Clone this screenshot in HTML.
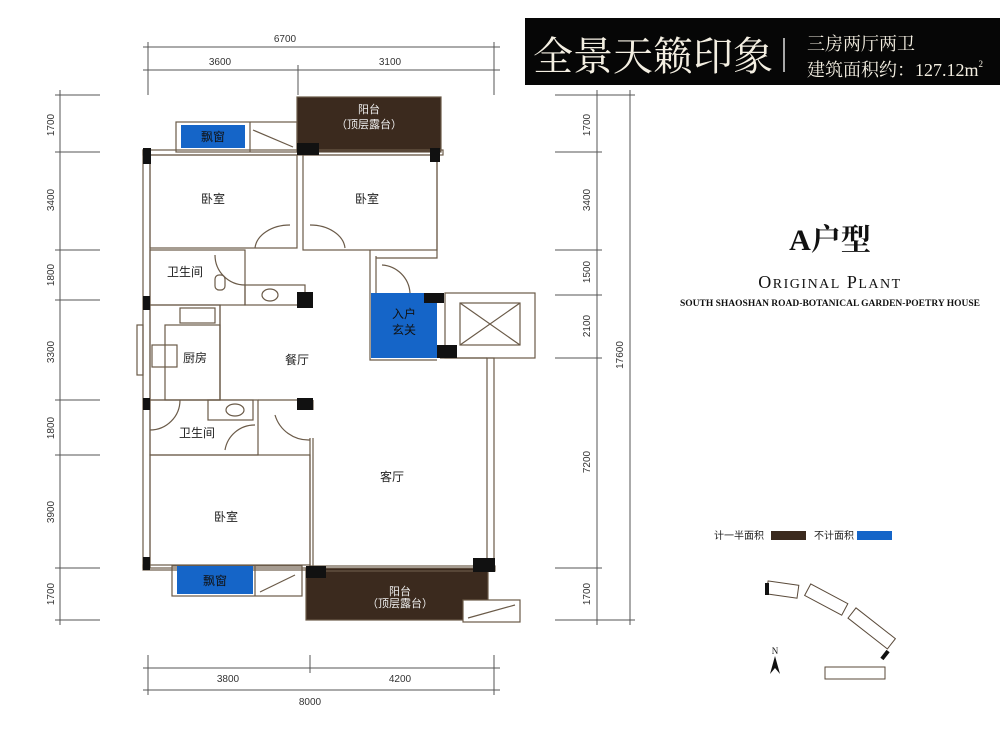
<!DOCTYPE html>
<html><head><meta charset="utf-8"><style>
html,body{margin:0;padding:0;background:#fff;}
svg{display:block;}
.d{font-family:"Liberation Sans Narrow","Liberation Sans",sans-serif;font-size:10px;fill:#333;}
.c{font-family:"Liberation Sans","Noto Sans CJK SC",sans-serif;font-size:12px;fill:#222;}
</style></head><body>
<svg width="1000" height="730" viewBox="0 0 1000 730" xmlns="http://www.w3.org/2000/svg">
<rect width="1000" height="730" fill="#fff"/>
<!-- header -->
<rect x="525" y="18" width="475" height="67" fill="#060606"/>
<text x="533" y="70" font-family="'Noto Serif CJK SC',serif" font-size="40" fill="#f4efe2">全景天籁印象</text>
<line x1="784" y1="38" x2="784" y2="72" stroke="#ddd" stroke-width="1.5"/>
<text x="807" y="50" font-family="'Noto Serif CJK SC',serif" font-size="18" fill="#f4efe2">三房两厅两卫</text>
<text x="807" y="76" font-family="'Liberation Serif','Noto Serif CJK SC',serif" font-size="18" fill="#f4efe2">建筑面积约：127.12m<tspan font-size="9" dy="-9">2</tspan></text>

<g stroke="#555" stroke-width="1" fill="none">
<!-- top dims -->
<line x1="143" y1="47" x2="500" y2="47"/><line x1="143" y1="70" x2="500" y2="70"/>
<line x1="148" y1="42" x2="148" y2="95"/><line x1="494" y1="42" x2="494" y2="95"/><line x1="298" y1="65" x2="298" y2="95"/>
<!-- bottom dims -->
<line x1="143" y1="668" x2="500" y2="668"/><line x1="143" y1="690" x2="500" y2="690"/>
<line x1="148" y1="655" x2="148" y2="695"/><line x1="494" y1="655" x2="494" y2="695"/><line x1="310" y1="655" x2="310" y2="673"/>
<!-- left dims -->
<line x1="60" y1="90" x2="60" y2="625"/>
<g><line x1="55" y1="95" x2="100" y2="95"/><line x1="55" y1="152" x2="100" y2="152"/><line x1="55" y1="250" x2="100" y2="250"/><line x1="55" y1="300" x2="100" y2="300"/><line x1="55" y1="400" x2="100" y2="400"/><line x1="55" y1="455" x2="100" y2="455"/><line x1="55" y1="568" x2="100" y2="568"/><line x1="55" y1="620" x2="100" y2="620"/></g>
<!-- right dims -->
<line x1="597" y1="90" x2="597" y2="625"/><line x1="630" y1="90" x2="630" y2="625"/>
<g><line x1="555" y1="95" x2="635" y2="95"/><line x1="555" y1="152" x2="602" y2="152"/><line x1="555" y1="250" x2="602" y2="250"/><line x1="555" y1="295" x2="602" y2="295"/><line x1="555" y1="358" x2="602" y2="358"/><line x1="555" y1="568" x2="602" y2="568"/><line x1="555" y1="620" x2="635" y2="620"/></g>
</g>
<g class="d" text-anchor="middle">
<text x="285" y="42">6700</text><text x="220" y="65">3600</text><text x="390" y="65">3100</text>
<text x="228" y="682">3800</text><text x="400" y="682">4200</text><text x="310" y="705">8000</text>
<text transform="translate(54,125) rotate(-90)">1700</text>
<text transform="translate(54,200) rotate(-90)">3400</text>
<text transform="translate(54,275) rotate(-90)">1800</text>
<text transform="translate(54,352) rotate(-90)">3300</text>
<text transform="translate(54,428) rotate(-90)">1800</text>
<text transform="translate(54,512) rotate(-90)">3900</text>
<text transform="translate(54,594) rotate(-90)">1700</text>
<text transform="translate(590,125) rotate(-90)">1700</text>
<text transform="translate(590,200) rotate(-90)">3400</text>
<text transform="translate(590,272) rotate(-90)">1500</text>
<text transform="translate(590,326) rotate(-90)">2100</text>
<text transform="translate(590,462) rotate(-90)">7200</text>
<text transform="translate(590,594) rotate(-90)">1700</text>
<text transform="translate(623,355) rotate(-90)">17600</text>
</g>

<!-- plan -->
<g stroke="#6a5a48" stroke-width="1.2" fill="none">
<rect x="297" y="97" width="144" height="55" fill="#3b2a1e"/>
<rect x="176" y="122" width="121" height="30"/>
<line x1="250" y1="122" x2="250" y2="152"/>
<line x1="253" y1="130" x2="293" y2="147"/>
<rect x="143" y="150" width="300" height="5"/>
<rect x="143" y="150" width="7" height="418"/>
<rect x="150" y="155" width="147" height="93"/>
<rect x="303" y="155" width="134" height="95"/>
<line x1="437" y1="152" x2="437" y2="250"/>
<path d="M255 248 A35 25 0 0 1 290 225"/><path d="M310 225 A35 25 0 0 1 345 248"/>
<rect x="150" y="250" width="95" height="55"/>
<path d="M215 255 A30 30 0 0 0 245 285"/>
<rect x="215" y="275" width="10" height="15" rx="4"/>
<rect x="245" y="285" width="60" height="20"/>
<ellipse cx="270" cy="295" rx="8" ry="6"/>
<polyline points="370,250 370,360 437,360"/>
<line x1="376" y1="256" x2="376" y2="293"/>
<polyline points="437,250 437,258 376,258"/>
<path d="M382 265 A30 30 0 0 1 410 293"/>
<rect x="445" y="293" width="90" height="65"/>
<rect x="460" y="303" width="60" height="42"/>
<line x1="460" y1="303" x2="520" y2="345"/><line x1="520" y1="303" x2="460" y2="345"/>
<rect x="150" y="305" width="70" height="95"/>
<rect x="180" y="308" width="35" height="15"/>
<rect x="165" y="325" width="55" height="75"/>
<rect x="152" y="345" width="25" height="22"/>
<rect x="137" y="325" width="6" height="50"/>
<line x1="220" y1="305" x2="220" y2="400"/>
<rect x="150" y="400" width="108" height="55"/>
<rect x="208" y="400" width="45" height="20"/>
<ellipse cx="235" cy="410" rx="9" ry="6"/>
<path d="M150 430 A30 30 0 0 0 180 400"/>
<path d="M225 450 A30 30 0 0 1 255 425"/>
<path d="M275 415 A35 35 0 0 0 310 440"/>
<line x1="310" y1="438" x2="310" y2="568"/><line x1="313" y1="438" x2="313" y2="568"/>
<line x1="313" y1="400" x2="313" y2="410"/>
<line x1="258" y1="400" x2="310" y2="400"/>
<rect x="487" y="358" width="7" height="210"/>
<line x1="440" y1="358" x2="487" y2="358"/>
<rect x="150" y="455" width="160" height="113"/>
<rect x="143" y="565" width="167" height="5"/>
<rect x="172" y="566" width="130" height="30"/>
<line x1="255" y1="566" x2="255" y2="596"/>
<line x1="260" y1="592" x2="295" y2="575"/>
<rect x="306" y="568" width="182" height="52" fill="#3b2a1e"/>
<rect x="463" y="600" width="57" height="22" fill="#fff"/>
<line x1="468" y1="618" x2="515" y2="605"/>
<rect x="310" y="566" width="185" height="5"/>
</g>
<rect x="181" y="125" width="64" height="23" fill="#1565c8"/>
<rect x="177" y="566" width="76" height="28" fill="#1565c8"/>
<rect x="371" y="293" width="66" height="65" fill="#1565c8"/>
<g fill="#111">
<rect x="143" y="148" width="8" height="16"/><rect x="297" y="143" width="22" height="12"/><rect x="430" y="148" width="10" height="14"/>
<rect x="297" y="292" width="16" height="16"/><rect x="143" y="296" width="7" height="14"/>
<rect x="424" y="293" width="20" height="10"/><rect x="437" y="345" width="20" height="13"/>
<rect x="143" y="398" width="7" height="12"/><rect x="297" y="398" width="16" height="12"/>
<rect x="143" y="557" width="7" height="13"/><rect x="306" y="566" width="20" height="12"/><rect x="473" y="558" width="22" height="14"/>
</g>
<g class="c" text-anchor="middle">
<text x="213" y="203">卧室</text><text x="367" y="203">卧室</text>
<text x="213" y="141" fill="#111">飘窗</text><text x="215" y="585" fill="#111">飘窗</text>
<text x="369" y="113" fill="#eee" font-size="11">阳台</text><text x="369" y="128" fill="#eee" font-size="11">（顶层露台）</text>
<text x="400" y="595" fill="#eee" font-size="11">阳台</text><text x="400" y="607" fill="#eee" font-size="11">（顶层露台）</text>
<text x="185" y="276">卫生间</text><text x="197" y="437">卫生间</text>
<text x="195" y="362">厨房</text><text x="297" y="364">餐厅</text>
<text x="404" y="318" fill="#111">入户</text><text x="404" y="334" fill="#111">玄关</text>
<text x="392" y="481">客厅</text><text x="226" y="521">卧室</text>
</g>

<!-- right info -->
<text x="830" y="250" text-anchor="middle" font-family="'Liberation Serif','Noto Serif CJK SC',serif" font-weight="bold" font-size="30" fill="#111">A户型</text>
<text x="830" y="288" text-anchor="middle" font-family="'Liberation Serif',serif" font-size="18" letter-spacing="1.5" fill="#111">O<tspan font-size="14">RIGINAL</tspan>  P<tspan font-size="14">LANT</tspan></text>
<text x="830" y="306" text-anchor="middle" font-family="'Liberation Serif',serif" font-weight="bold" font-size="9.5" fill="#111">SOUTH SHAOSHAN ROAD-BOTANICAL GARDEN-POETRY HOUSE</text>
<text x="714" y="539" font-family="'Noto Sans CJK SC',sans-serif" font-size="10" fill="#222">计一半面积</text>
<rect x="771" y="531" width="35" height="9" fill="#3b2a1e"/>
<text x="814" y="539" font-family="'Noto Sans CJK SC',sans-serif" font-size="10" fill="#222">不计面积</text>
<rect x="857" y="531" width="35" height="9" fill="#1565c8"/>
<g stroke="#5a4a3a" stroke-width="1" fill="#fff">
<rect x="767" y="583" width="31" height="13" transform="rotate(8 782 590)"/>
<rect x="805" y="593" width="42" height="13" transform="rotate(28 826 600)"/>
<rect x="847" y="622" width="50" height="13" transform="rotate(38 872 628)"/>
<rect x="825" y="667" width="60" height="12"/>
</g>
<rect x="765" y="583" width="4" height="12" fill="#111"/>
<rect x="883" y="650" width="4" height="10" fill="#111" transform="rotate(38 885 655)"/>
<text x="775" y="654" text-anchor="middle" font-family="'Liberation Serif',serif" font-size="9" fill="#111">N</text>
<path d="M775 656 L770 674 L775 668 L780 674 Z" fill="#111"/>
</svg>
</body></html>
